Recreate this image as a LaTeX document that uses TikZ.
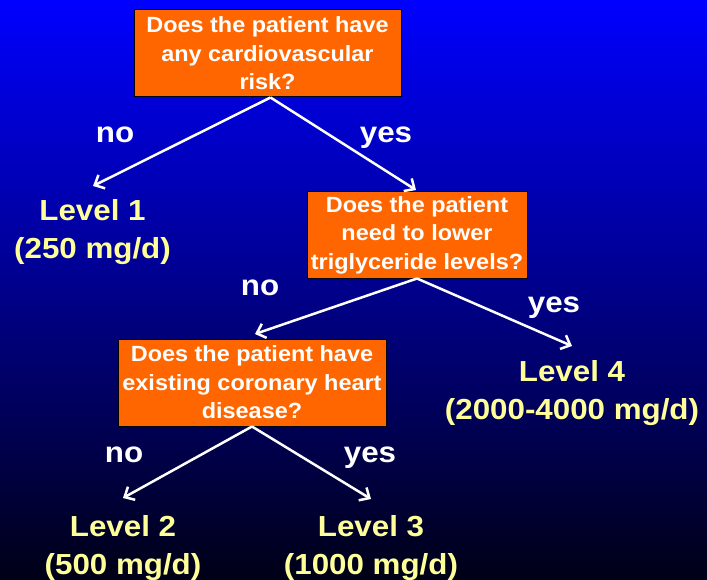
\documentclass[tikz,border=0pt]{standalone}
\usepackage{fontspec}
\usetikzlibrary{arrows.meta}
\newfontfamily\qfont[FakeStretch=1.065]{Liberation Sans Bold}
\newfontfamily\lfont[FakeStretch=1.08]{Liberation Sans Bold}
\definecolor{bgtop}{RGB}{0,0,255}
\definecolor{bgmid}{RGB}{0,0,185}
\definecolor{bgbot}{RGB}{0,0,22}
\definecolor{qorange}{RGB}{255,102,0}
\definecolor{lvyellow}{RGB}{255,255,153}
\tikzset{
  qbox/.style={draw=black, line width=1pt, fill=qorange, text=white, align=center,
    inner sep=0pt, font=\qfont\fontsize{22}{28.5}\selectfont},
  lvl/.style={text=lvyellow, align=center, inner sep=0pt, font=\lfont\fontsize{29}{38}\selectfont},
  ans/.style={text=white, inner sep=0pt, anchor=base, font=\lfont\fontsize{29}{35}\selectfont},
  arr/.style={draw=white, line width=2.5pt, -{Straight Barb[length=8pt,width=15pt,line width=2.5pt]}}
}
\begin{document}
\begin{tikzpicture}[x=1pt,y=-1pt]
\shade[top color=bgtop, middle color=bgmid, bottom color=bgbot] (0,0) rectangle (707,580);
\useasboundingbox (0,0) rectangle (707,580);

\node[qbox, minimum width=267pt, minimum height=87pt] (b1) at (267.5,53.5)
  {Does the patient have\\any cardiovascular\\risk?};
\node[qbox, minimum width=220pt, minimum height=86pt] (b2) at (417,235)
  {Does the patient\\need to lower\\triglyceride levels?};
\node[qbox, minimum width=268pt, minimum height=87pt] (b3) at (252,382.5)
  {Does the patient have\\existing coronary heart\\disease?};

\node[lvl] (l1) at (92.5,232.5) {Level 1\\(250 mg/d)};
\node[lvl] (l4) at (572,393) {Level 4\\(2000-4000 mg/d)};
\node[lvl] (l2) at (123,548) {Level 2\\(500 mg/d)};
\node[lvl] (l3) at (371,548) {Level 3\\(1000 mg/d)};

\node[ans] (n1) at (115,143) {no};
\node[ans] (y1) at (386,143) {yes};
\node[ans] (n2) at (260,295) {no};
\node[ans] (y2) at (554,312) {yes};
\node[ans] (n3) at (124,462) {no};
\node[ans] (y3) at (370,462) {yes};

\coordinate (t1) at (93,186);
\coordinate (t2) at (416,190);
\coordinate (t3) at (255,334);
\coordinate (t4) at (572,346);
\coordinate (t5) at (123,498);
\coordinate (t6) at (371,499);

\draw[arr] ([xshift=3pt]b1.south) -- (t1);
\draw[arr] ([xshift=3pt]b1.south) -- (t2);
\draw[arr] (b2.south) -- (t3);
\draw[arr] (b2.south) -- (t4);
\draw[arr] (b3.south) -- (t5);
\draw[arr] (b3.south) -- (t6);
\end{tikzpicture}
\end{document}
